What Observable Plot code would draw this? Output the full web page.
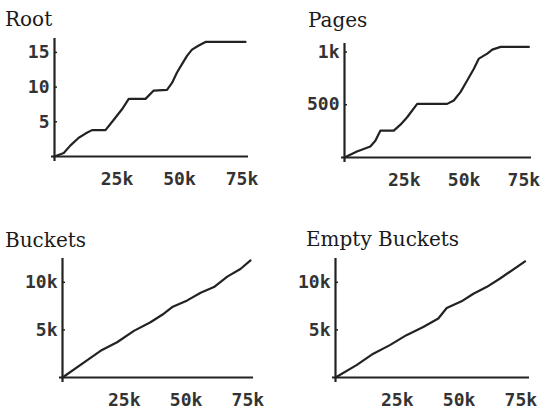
<!DOCTYPE html>
<html><head><meta charset="utf-8">
<script src="https://cdn.jsdelivr.net/npm/d3@7"></script>
<script src="https://cdn.jsdelivr.net/npm/@observablehq/plot@0.6"></script>
<style>
body{margin:0;background:#fff;}
#chart{position:relative;width:547px;height:411px;overflow:hidden;background:#fff;}
.panel{position:absolute;}
.title{position:absolute;font-family:"DejaVu Serif",serif;font-size:20px;line-height:20px;color:#1a1a1a;white-space:nowrap;}
</style></head><body><div id="chart"></div>
<script>
// ---- data (x in thousands of items inserted) ----
const xTickValues = [25000, 50000, 75000];

const rootX = [0, 3.7, 6.4, 9.7, 12.4, 15, 20.4, 23.7, 27, 29.7, 36.4, 39.7, 45, 47, 49, 51, 53, 55, 57.7, 60.4, 76.4];
const rootY = [0, 0.5, 1.6, 2.7, 3.3, 3.8, 3.8, 5.3, 6.8, 8.3, 8.3, 9.5, 9.6, 10.6, 12.1, 13.3, 14.5, 15.4, 16, 16.5, 16.5];
const rootYTicks = [5, 10, 15];

const pagesX = [0, 5.2, 10.8, 12.9, 15, 20.6, 23.4, 26.2, 30.4, 42.9, 45.7, 48.5, 51.3, 54.1, 56.2, 59.7, 61.8, 65.3, 77.1];
const pagesY = [0, 57, 105, 159, 254, 254, 311, 381, 508, 508, 540, 619, 730, 841, 937, 984, 1022, 1048, 1048];
const pagesYTicks = [500, 1000];

const bucketsX = [0, 8.6, 15.4, 22.1, 28.9, 35.6, 41, 44.4, 50.5, 55.9, 61.3, 66.7, 72, 76.1];
const bucketsY = [0, 1.57, 2.8, 3.7, 4.9, 5.8, 6.7, 7.4, 8.1, 8.9, 9.5, 10.6, 11.4, 12.3];
const bucketsYTicks = [5000, 10000];

const emptyX = [0, 8.5, 15.3, 22, 28.7, 35.5, 41.6, 45, 51, 55.8, 61.1, 66.6, 76.7];
const emptyY = [0, 1.3, 2.5, 3.4, 4.45, 5.3, 6.2, 7.3, 8.0, 8.8, 9.5, 10.4, 12.2];
const emptyYTicks = [5000, 10000];

const titles = ["Root", "Pages", "Buckets", "Empty Buckets"];

// ---- layout ----
const fmt = d => d >= 1000 ? (d / 1000) + "k" : String(d);
const toRows = (xs, ys, ky) => xs.map((x, i) => ({x: x * 1000, y: ys[i] * ky}));

const panels = [
  {title: titles[0], rows: toRows(rootX, rootY, 1), yTicks: rootYTicks,
   left: 0, top: 0, width: 273, height: 205, mL: 54, mR: 25, mT: 38, mB: 49,
   xMax: 77600, yMax: 17.0, tLeft: 5, tTop: 9},
  {title: titles[1], rows: toRows(pagesX, pagesY, 1), yTicks: pagesYTicks,
   left: 273, top: 0, width: 274, height: 205, mL: 71, mR: 16, mT: 43, mB: 48,
   xMax: 78200, yMax: 1080, tLeft: 308, tTop: 10},
  {title: titles[2], rows: toRows(bucketsX, bucketsY, 1000), yTicks: bucketsYTicks,
   left: 0, top: 205, width: 273, height: 206, mL: 62, mR: 20, mT: 53, mB: 34,
   xMax: 77300, yMax: 12500, tLeft: 5, tTop: 230},
  {title: titles[3], rows: toRows(emptyX, emptyY, 1000), yTicks: emptyYTicks,
   left: 273, top: 205, width: 274, height: 206, mL: 62, mR: 18, mT: 53, mB: 34,
   xMax: 78500, yMax: 12500, tLeft: 306, tTop: 229}
];

const host = document.getElementById("chart");
const ink = "#222";

for (const p of panels) {
  const svg = Plot.plot({
    width: p.width, height: p.height,
    marginLeft: p.mL, marginRight: p.mR, marginTop: p.mT, marginBottom: p.mB,
    x: {domain: [0, p.xMax], label: null},
    y: {domain: [0, p.yMax], label: null},
    style: {fontFamily: "'DejaVu Sans Mono', monospace", fontSize: "18px", fontWeight: "bold", color: "#333", background: "transparent", overflow: "visible"},
    marks: [
      Plot.axisX(xTickValues, {tickSize: 0, tickPadding: 16, tickFormat: fmt, label: null}),
      Plot.axisY(p.yTicks, {tickSize: 0, tickPadding: 5, tickFormat: fmt, label: null}),
      Plot.axisY(p.yTicks, {tickSize: -3, tickFormat: () => "", label: null, stroke: ink, strokeWidth: 1.5}),
      Plot.ruleY([0], {insetLeft: -3, stroke: ink, strokeWidth: 2.2}),
      Plot.ruleX([0], {insetBottom: -5, stroke: ink, strokeWidth: 2.2}),
      Plot.line(p.rows, {x: "x", y: "y", stroke: ink, strokeWidth: 2.2})
    ]
  });
  const wrap = document.createElement("div");
  wrap.className = "panel";
  wrap.style.left = p.left + "px";
  wrap.style.top = p.top + "px";
  wrap.appendChild(svg);
  host.appendChild(wrap);

  const t = document.createElement("div");
  t.className = "title";
  t.textContent = p.title;
  t.style.left = p.tLeft + "px";
  t.style.top = p.tTop + "px";
  host.appendChild(t);
}
</script></body></html>
